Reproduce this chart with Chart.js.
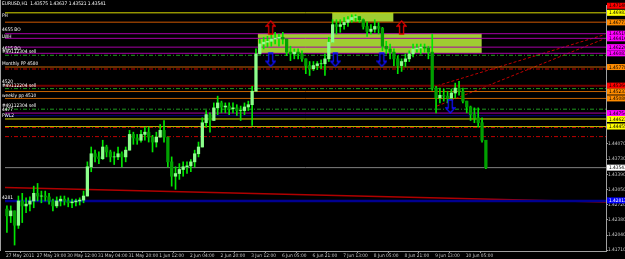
<!DOCTYPE html>
<html>
<head>
<meta charset="utf-8">
<script src="https://cdn.jsdelivr.net/npm/chart.js@4.4.0/dist/chart.umd.min.js"></script>
<style>
  html, body { margin: 0; padding: 0; background: #000; overflow: hidden; }
  canvas { display: block; }
</style>
</head>
<body>
<canvas id="chart" width="625" height="259"></canvas>
<script>
// EURUSD H1, two hours per candle
const high = [1.4269,1.4269,1.4258,1.4291,1.4297,1.4287,1.4289,1.4313,1.4319,1.4302,
  1.4302,1.4297,1.4284,1.4289,1.4291,1.4291,1.4287,1.4284,1.4284,1.4287,
  1.4302,1.4367,1.4400,1.4393,1.4389,1.4415,1.4404,1.4393,1.4389,1.4400,
  1.4389,1.4400,1.4437,1.4433,1.4428,1.4437,1.4444,1.4444,1.4426,1.4433,
  1.4450,1.4459,1.4422,1.4378,1.4356,1.4363,1.4367,1.4367,1.4372,1.4393,
  1.4411,1.4465,1.4481,1.4476,1.4498,1.4513,1.4502,1.4498,1.4498,1.4498,
  1.4494,1.4491,1.4498,1.4502,1.4535,1.4618,1.4640,1.4644,1.4646,1.4651,
  1.4655,1.4651,1.4655,1.4640,1.4624,1.4618,1.4618,1.4614,1.4596,1.4590,
  1.4590,1.4590,1.4594,1.4607,1.4644,1.4683,1.4683,1.4683,1.4688,1.4690,
  1.4694,1.4694,1.4690,1.4685,1.4679,1.4672,1.4683,1.4677,1.4666,1.4635,
  1.4629,1.4618,1.4603,1.4596,1.4607,1.4614,1.4629,1.4629,1.4629,1.4629,
  1.4624,1.4651,1.4535,1.4531,1.4529,1.4524,1.4529,1.4542,1.4546,1.4531,
  1.4502,1.4491,1.4487,1.4487,1.4465,1.4415];
const low = [1.4210,1.4232,1.4182,1.4219,1.4232,1.4254,1.4258,1.4265,1.4280,1.4276,
  1.4280,1.4273,1.4258,1.4265,1.4269,1.4271,1.4267,1.4265,1.4269,1.4271,
  1.4276,1.4291,1.4345,1.4367,1.4363,1.4372,1.4378,1.4367,1.4361,1.4372,
  1.4356,1.4367,1.4393,1.4406,1.4406,1.4411,1.4415,1.4411,1.4389,1.4400,
  1.4422,1.4411,1.4356,1.4313,1.4306,1.4328,1.4335,1.4341,1.4345,1.4356,
  1.4378,1.4400,1.4444,1.4433,1.4459,1.4472,1.4476,1.4476,1.4472,1.4476,
  1.4470,1.4459,1.4472,1.4481,1.4448,1.4524,1.4607,1.4618,1.4622,1.4624,
  1.4629,1.4624,1.4629,1.4603,1.4592,1.4596,1.4596,1.4590,1.4563,1.4559,
  1.4570,1.4572,1.4574,1.4559,1.4590,1.4633,1.4651,1.4655,1.4662,1.4668,
  1.4677,1.4679,1.4677,1.4662,1.4646,1.4651,1.4655,1.4651,1.4614,1.4607,
  1.4596,1.4581,1.4563,1.4568,1.4579,1.4590,1.4600,1.4611,1.4607,1.4611,
  1.4596,1.4526,1.4476,1.4498,1.4502,1.4498,1.4502,1.4509,1.4515,1.4498,
  1.4476,1.4459,1.4454,1.4444,1.4411,1.4352];
const close = [1.4247,1.4258,1.4226,1.4280,1.4269,1.4273,1.4280,1.4297,1.4291,1.4291,
  1.4289,1.4280,1.4269,1.4280,1.4284,1.4280,1.4276,1.4278,1.4280,1.4282,
  1.4291,1.4356,1.4385,1.4378,1.4374,1.4400,1.4389,1.4378,1.4378,1.4385,
  1.4378,1.4393,1.4428,1.4420,1.4415,1.4428,1.4433,1.4422,1.4411,1.4422,
  1.4437,1.4422,1.4367,1.4335,1.4341,1.4350,1.4356,1.4358,1.4367,1.4385,
  1.4400,1.4454,1.4472,1.4459,1.4487,1.4498,1.4489,1.4491,1.4485,1.4487,
  1.4481,1.4481,1.4489,1.4494,1.4524,1.4607,1.4629,1.4633,1.4635,1.4640,
  1.4642,1.4644,1.4640,1.4611,1.4607,1.4611,1.4607,1.4596,1.4581,1.4574,
  1.4581,1.4585,1.4585,1.4596,1.4633,1.4672,1.4668,1.4672,1.4677,1.4683,
  1.4688,1.4690,1.4683,1.4668,1.4657,1.4662,1.4668,1.4664,1.4624,1.4618,
  1.4611,1.4596,1.4581,1.4590,1.4596,1.4607,1.4618,1.4620,1.4622,1.4620,
  1.4611,1.4531,1.4509,1.4515,1.4513,1.4509,1.4520,1.4531,1.4524,1.4502,
  1.4489,1.4472,1.4465,1.4454,1.4415,1.43541];
const firstOpen = 1.4262;

const timeLabels = ['27 May 2011','27 May 19:00','30 May 12:00','31 May 04:00','31 May 20:00',
  '1 Jun 12:00','2 Jun 04:00','2 Jun 20:00','3 Jun 12:00','6 Jun 05:00','6 Jun 21:00',
  '7 Jun 13:00','8 Jun 05:00','8 Jun 21:00','9 Jun 13:00','10 Jun 05:00'];
const priceTicks = [1.41710,1.42040,1.42380,1.42720,1.43050,1.43390,1.43730,1.44070];

// horizontal levels
const levelPrices = [1.46983,1.46771,1.46519,1.46416,1.46220,1.46083,1.46039,1.45778,1.45734,
  1.45364,1.45298,1.45233,1.45080,1.44841,1.44754,1.44695,1.44623,1.44455,1.44433,1.44231,
  1.43541,1.42799];
const levelKinds = ['yellow','brown','magenta','magenta','magenta','magenta','order','orange','pivot',
  'darkred','order','orange','orange','order','magenta','navy','yellow','olive','pivot','pivot',
  'price','blue'];

// price tags on the right axis
const tagPrices = [1.47140,1.46983,1.46771,1.46519,1.46416,1.46220,1.46083,1.45778,1.45364,
  1.45233,1.45080,1.44754,1.44623,1.44455,1.43541,1.42813];
const tagKinds = ['red','yellow','orange','magenta','magenta','magenta','magenta','orange','red',
  'orange','orange','magenta','yellow','yellow','white','blue'];

// text objects on the left
const noteTexts = ['PH','4655 BO','LWH','4615 BO','#49112304 sell','Monthly PP 4580','4520',
  '#49112204 sell','weekly pp 4510','#49112304 sell','4477','PWL2','4281'];
const notePrices = [1.46917,1.46612,1.46460,1.46187,1.46122,1.45850,1.45446,1.45359,1.45146,
  1.44913,1.44819,1.44684,1.42875];

// zones (hours from first bar)
const zoneStart = [132, 170.8];
const zoneEnd = [248.8, 202.7];
const zoneTop = [1.46526, 1.46983];
const zoneBottom = [1.46090, 1.46771];

// signal arrows
const upArrowHours = [138.7, 207];
const upArrowPrices = [1.46656, 1.46656];
const downArrowHours = [138.7, 172.4, 196.7, 232.4];
const downArrowPrices = [1.45937, 1.45937, 1.45937, 1.44902];

// trend lines
const trendHours = [0, 313.7];
const trendPrices = [1.4310, 1.4278];
const channelHours = [225.5, 313.1];
const channelUpper = [1.4536, 1.4650];
const channelLower = [1.4491, 1.4641];

const X_MAX = 313.7;

const kindStyle = {
  yellow:  { color: '#d8d800', width: 1, dash: [] },
  olive:   { color: '#b8b800', width: 1, dash: [] },
  brown:   { color: '#8a3a00', width: 1.5, dash: [] },
  magenta: { color: '#a800a8', width: 1, dash: [] },
  order:   { color: '#1f9a1f', width: 1, dash: [4, 2, 1, 2] },
  orange:  { color: '#c86400', width: 1, dash: [] },
  pivot:   { color: '#c00000', width: 1, dash: [4, 2, 1, 2] },
  darkred: { color: '#700000', width: 2, dash: [] },
  navy:    { color: '#000080', width: 1, dash: [] },
  price:   { color: '#808080', width: 1, dash: [] },
  blue:    { color: '#000090', width: 2.5, dash: [] }
};
const tagFill = { red: '#ff0000', yellow: '#ffff00', orange: '#ff8c00', magenta: '#ff00ff', white: '#ffffff', blue: '#0000ff' };

const FONT = "'Liberation Sans Narrow', 'DejaVu Sans Condensed', 'Liberation Sans', sans-serif";
const FONT_SIZE = 4.8;

function arrowImage(up, color) {
  const c = document.createElement('canvas');
  c.width = 11; c.height = 15;
  const g = c.getContext('2d');
  const pts = up
    ? [[5.5,1],[10,6],[7.5,6],[7.5,14],[3.5,14],[3.5,6],[1,6]]
    : [[5.5,14],[10,9],[7.5,9],[7.5,1],[3.5,1],[3.5,9],[1,9]];
  g.beginPath();
  pts.forEach(([x, y], i) => i ? g.lineTo(x, y) : g.moveTo(x, y));
  g.closePath();
  g.fillStyle = '#000';
  g.fill();
  g.strokeStyle = color;
  g.lineWidth = 1.3;
  g.stroke();
  return c;
}

const candleX = high.map((_, k) => 2 * k + 1);
const open = close.map((_, k) => k === 0 ? firstOpen : close[k - 1]);

const datasets = [];

// candles
datasets.push({
  type: 'bar',
  data: candleX.map((x, k) => ({ x: x, y: [open[k], close[k]] })),
  backgroundColor: close.map((c, k) => c >= open[k] ? '#8cff8c' : '#00a000'),
  barThickness: 2.6,
  grouped: false,
  order: 0
});
datasets.push({
  type: 'bar',
  data: candleX.map((x, k) => ({ x: x, y: [low[k], high[k]] })),
  backgroundColor: '#00e600',
  barThickness: 1,
  grouped: false,
  order: 1
});

// arrows
datasets.push({
  type: 'line', showLine: false, order: 0,
  data: upArrowHours.map((h, i) => ({ x: h, y: upArrowPrices[i] })),
  pointStyle: arrowImage(true, '#e00000')
});
datasets.push({
  type: 'line', showLine: false, order: 0,
  data: downArrowHours.map((h, i) => ({ x: h, y: downArrowPrices[i] })),
  pointStyle: arrowImage(false, '#1010ff')
});

// horizontal levels
levelPrices.forEach((p, i) => {
  const st = kindStyle[levelKinds[i]];
  datasets.push({
    type: 'line', order: 2,
    data: [{ x: 0, y: p }, { x: X_MAX, y: p }],
    borderColor: st.color, borderWidth: st.width, borderDash: st.dash,
    pointRadius: 0
  });
});

// trend and channel
datasets.push({
  type: 'line', order: 2,
  data: trendHours.map((h, i) => ({ x: h, y: trendPrices[i] })),
  borderColor: '#b00000', borderWidth: 1.5, pointRadius: 0
});
[channelUpper, channelLower].forEach(arr => {
  datasets.push({
    type: 'line', order: 2,
    data: channelHours.map((h, i) => ({ x: h, y: arr[i] })),
    borderColor: '#c00000', borderWidth: 1, borderDash: [3, 2], pointRadius: 0
  });
});

const overlay = {
  id: 'overlay',
  beforeDraw(chart) {
    const { ctx } = chart;
    ctx.save();
    ctx.fillStyle = '#000';
    ctx.fillRect(0, 0, chart.width, chart.height);
    ctx.restore();
  },
  beforeDatasetsDraw(chart) {
    const { ctx, scales: { x, y } } = chart;
    ctx.save();
    ctx.fillStyle = '#9fcd32';
    zoneStart.forEach((s, i) => {
      const x0 = x.getPixelForValue(s), x1 = x.getPixelForValue(zoneEnd[i]);
      const y0 = y.getPixelForValue(zoneTop[i]), y1 = y.getPixelForValue(zoneBottom[i]);
      ctx.fillRect(x0, y0, x1 - x0, y1 - y0);
    });
    ctx.restore();
  },
  afterDraw(chart) {
    const { ctx, chartArea, scales: { y } } = chart;
    ctx.save();
    // left frame
    ctx.strokeStyle = '#a0a0a0';
    ctx.lineWidth = 1;
    ctx.beginPath();
    ctx.moveTo(0.5, 0);
    ctx.lineTo(0.5, chartArea.bottom);
    ctx.stroke();

    ctx.font = FONT_SIZE + 'px ' + FONT;
    ctx.textBaseline = 'middle';
    ctx.textAlign = 'left';
    ctx.fillStyle = '#ffffff';
    ctx.fillText('EURUSD,H1  1.43575 1.43637 1.43521 1.43541', 2, 4);
    noteTexts.forEach((t, i) => {
      ctx.fillText(t, 2, y.getPixelForValue(notePrices[i]));
    });

    // right-axis price tags
    tagPrices.forEach((p, i) => {
      const py = y.getPixelForValue(p);
      ctx.fillStyle = tagFill[tagKinds[i]];
      ctx.fillRect(chartArea.right + 1, py - 3, 19, 6);
      ctx.fillStyle = tagKinds[i] === 'blue' ? '#ffffff' : '#000000';
      ctx.fillText(p.toFixed(5), chartArea.right + 3, py + 0.3);
    });
    ctx.restore();
  }
};

new Chart(document.getElementById('chart'), {
  type: 'bar',
  data: { datasets: datasets },
  options: {
    responsive: false,
    animation: false,
    events: [],
    layout: { padding: 0 },
    plugins: { legend: { display: false }, tooltip: { enabled: false } },
    scales: {
      x: {
        type: 'linear',
        min: 0,
        max: X_MAX,
        offset: false,
        afterFit: s => { s.height = 8; },
        afterBuildTicks: s => { s.ticks = timeLabels.map((_, i) => ({ value: i * 16 })); },
        ticks: {
          autoSkip: false, maxRotation: 0, align: 'start', padding: 0, labelOffset: 1,
          color: '#c8c8c8', font: { size: FONT_SIZE, family: FONT },
          callback: (v, i) => timeLabels[i]
        },
        grid: { drawOnChartArea: false, drawTicks: true, tickLength: 2, color: '#a0a0a0' },
        border: { display: true, color: '#a0a0a0' }
      },
      y: {
        position: 'right',
        min: 1.41688,
        max: 1.47157,
        afterFit: s => { s.width = 19; },
        afterBuildTicks: s => { s.ticks = priceTicks.map(v => ({ value: v })); },
        ticks: {
          padding: 0, color: '#c8c8c8', font: { size: FONT_SIZE, family: FONT },
          callback: v => v.toFixed(5)
        },
        grid: { drawOnChartArea: false, drawTicks: true, tickLength: 2, color: '#a0a0a0' },
        border: { display: true, color: '#a0a0a0' }
      }
    }
  },
  plugins: [overlay]
});
</script>
</body>
</html>
